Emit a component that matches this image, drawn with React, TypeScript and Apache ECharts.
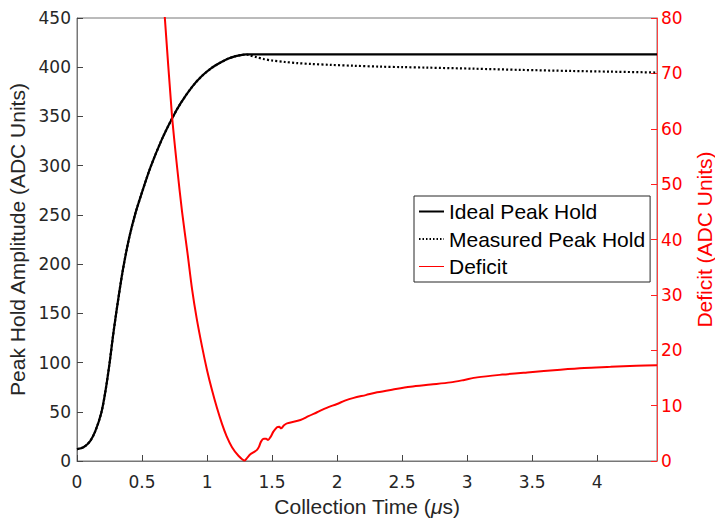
import React, { useEffect, useRef } from "react";
import * as echarts from "echarts";

// Time axis (microseconds)
const timeIdeal = [0, 0.05, 0.1, 0.14, 0.187, 0.22, 0.251, 0.275, 0.3, 0.35, 0.4, 0.45, 0.5, 0.564, 0.65, 0.735, 0.8, 0.885, 0.96, 1.038, 1.1, 1.16, 1.22, 1.27, 1.3, 4.46];
const idealAmp = [12, 14, 20, 30, 49, 72, 100, 125, 149, 192, 226, 252, 273, 298, 326, 349, 364, 380, 391, 399.5, 404.5, 408.5, 411.3, 412.6, 413, 413];

const timeMeasured = [0, 0.05, 0.1, 0.14, 0.187, 0.22, 0.251, 0.275, 0.3, 0.35, 0.4, 0.45, 0.5, 0.564, 0.65, 0.735, 0.8, 0.885, 0.96, 1.038, 1.1, 1.16, 1.22, 1.27, 1.3, 1.33, 1.38, 1.436, 1.5, 1.6, 1.692, 1.8, 1.95, 2.13, 2.33, 2.5, 2.69, 3.05, 3.41, 3.8, 4.1, 4.46];
const measuredAmp = [12, 14, 20, 30, 49, 72, 100, 125, 149, 192, 226, 252, 273, 298, 326, 349, 364, 380, 391, 399.5, 404.5, 408.5, 411.3, 412.6, 413, 412, 410.2, 408.3, 406.8, 405.3, 404.2, 403.3, 402.4, 401.5, 400.6, 400.1, 399.6, 398.5, 397.3, 396.2, 395.5, 394.6];

const timeDeficit = [0.64, 0.674, 0.73, 0.77, 0.808, 0.85, 0.885, 0.92, 0.962, 1.0, 1.038, 1.076, 1.115, 1.15, 1.192, 1.24, 1.289, 1.31, 1.333, 1.36, 1.384, 1.4, 1.415, 1.436, 1.455, 1.469, 1.49, 1.51, 1.538, 1.555, 1.569, 1.59, 1.615, 1.718, 1.78, 1.846, 1.92, 2.0, 2.06, 2.128, 2.22, 2.308, 2.43, 2.564, 2.72, 2.872, 2.97, 3.077, 3.27, 3.462, 3.718, 3.9, 4.103, 4.3, 4.46];
const deficitVals = [91, 80.5, 62.5, 53, 45, 37.5, 31, 25.8, 20.6, 16.4, 12.8, 9.6, 6.7, 4.5, 2.5, 1.0, 0.1, 0.6, 1.2, 1.6, 2.0, 2.6, 3.5, 4.0, 4.0, 3.8, 4.4, 5.3, 6.1, 6.2, 5.9, 6.4, 6.8, 7.4, 8.1, 8.8, 9.6, 10.3, 10.9, 11.4, 11.9, 12.4, 12.9, 13.4, 13.8, 14.2, 14.6, 15.1, 15.6, 16.0, 16.5, 16.8, 17.0, 17.2, 17.3];

const xTicks = [0, 0.5, 1, 1.5, 2, 2.5, 3, 3.5, 4];
const seriesNames = ["Ideal Peak Hold", "Measured Peak Hold", "Deficit"];

const pairs = (xs: number[], ys: number[]) => xs.map((x, i) => [x, ys[i]]);

const TXT = "#262626";
const TICKFONT = "DejaVu Sans";
const TITLEFONT = "Liberation Sans, Arial, sans-serif";

export default function App() {
  const ref = useRef<HTMLDivElement>(null);
  useEffect(() => {
    if (!ref.current) return;
    const chart = echarts.init(ref.current, null, { renderer: "svg" });
    chart.setOption({
      animation: false,
      backgroundColor: "#ffffff",
      grid: {
        left: 77,
        right: 58,
        top: 18,
        bottom: 57,
        show: true,
        borderColor: "#777777",
        borderWidth: 1,
        containLabel: false,
        outerBoundsMode: "none",
      },
      legend: {
        show: true,
        orient: "vertical",
        left: 414,
        top: 196,
        padding: [4.5, 5, 4.5, 4],
        itemGap: 5.5,
        itemWidth: 25,
        itemHeight: 14,
        backgroundColor: "#ffffff",
        borderColor: "#262626",
        borderWidth: 1,
        borderRadius: 0,
        itemStyle: { opacity: 0 },
        textStyle: { fontFamily: TITLEFONT, fontSize: 21, color: "#000000", lineHeight: 22 },
        data: [
          { name: seriesNames[0] },
          { name: seriesNames[1], lineStyle: { width: 1.8, type: [1.5, 2] } },
          { name: seriesNames[2], lineStyle: { width: 1 } },
        ],
      },
      xAxis: {
        type: "value",
        min: 0,
        max: 4.46,
        interval: 0.5,
        name: "Collection Time ({mu|μ}s)",
        nameLocation: "middle",
        nameGap: 35,
        nameTextStyle: {
          fontFamily: TITLEFONT,
          fontSize: 21,
          lineHeight: 20,
          color: TXT,
          rich: { mu: { fontFamily: TITLEFONT, fontSize: 21, lineHeight: 20, fontStyle: "italic", color: TXT } },
        },
        axisLine: { show: true, lineStyle: { color: "#777777", width: 1 } },
        axisTick: { show: true, inside: true, length: 6, customValues: xTicks, lineStyle: { color: "#444444" } },
        axisLabel: { customValues: xTicks, margin: 12, fontFamily: TICKFONT, fontSize: 17, color: TXT, formatter: (v: number) => String(v) },
        splitLine: { show: false },
      },
      yAxis: [
        {
          type: "value",
          min: 0,
          max: 450,
          interval: 50,
          position: "left",
          name: "Peak Hold Amplitude (ADC Units)",
          nameLocation: "middle",
          nameGap: 43,
          nameTextStyle: { fontFamily: TITLEFONT, fontSize: 21, color: TXT },
          axisLine: { show: true, lineStyle: { color: "#777777", width: 1 } },
          axisTick: { show: true, inside: true, length: 6, lineStyle: { color: "#444444" } },
          axisLabel: { margin: 6, fontFamily: TICKFONT, fontSize: 17, color: TXT },
          splitLine: { show: false },
        },
        {
          type: "value",
          min: 0,
          max: 80,
          interval: 10,
          position: "right",
          name: "Deficit (ADC Units)",
          nameLocation: "middle",
          nameGap: 36,
          nameTextStyle: { fontFamily: TITLEFONT, fontSize: 21, lineHeight: 20, color: "#ff0000" },
          axisLine: { show: true, lineStyle: { color: "#ff4040", width: 1 } },
          axisTick: { show: true, inside: true, length: 6, lineStyle: { color: "#ff2020" } },
          axisLabel: { margin: 4, fontFamily: TICKFONT, fontSize: 17, color: "#ff0000" },
          splitLine: { show: false },
        },
      ],
      series: [
        {
          name: seriesNames[0],
          type: "line",
          yAxisIndex: 0,
          data: pairs(timeIdeal, idealAmp),
          showSymbol: false,
          symbol: "none",
          smooth: 0.3,
          lineStyle: { color: "#000000", width: 2.2 },
          itemStyle: { color: "#000000" },
          z: 3,
        },
        {
          name: seriesNames[1],
          type: "line",
          yAxisIndex: 0,
          data: pairs(timeMeasured, measuredAmp),
          showSymbol: false,
          symbol: "none",
          smooth: 0.3,
          lineStyle: { color: "#000000", width: 2.2, type: [2, 2.2], cap: "butt" },
          itemStyle: { color: "#000000" },
          z: 4,
        },
        {
          name: seriesNames[2],
          type: "line",
          yAxisIndex: 1,
          data: pairs(timeDeficit, deficitVals),
          showSymbol: false,
          symbol: "none",
          smooth: 0.3,
          lineStyle: { color: "#ff0000", width: 2 },
          itemStyle: { color: "#ff0000" },
          z: 5,
        },
      ],
    });
    return () => chart.dispose();
  }, []);
  return (
    <div
      ref={ref}
      style={{ position: "fixed", left: 0, top: 0, width: 715, height: 518, background: "#fff" }}
    />
  );
}
